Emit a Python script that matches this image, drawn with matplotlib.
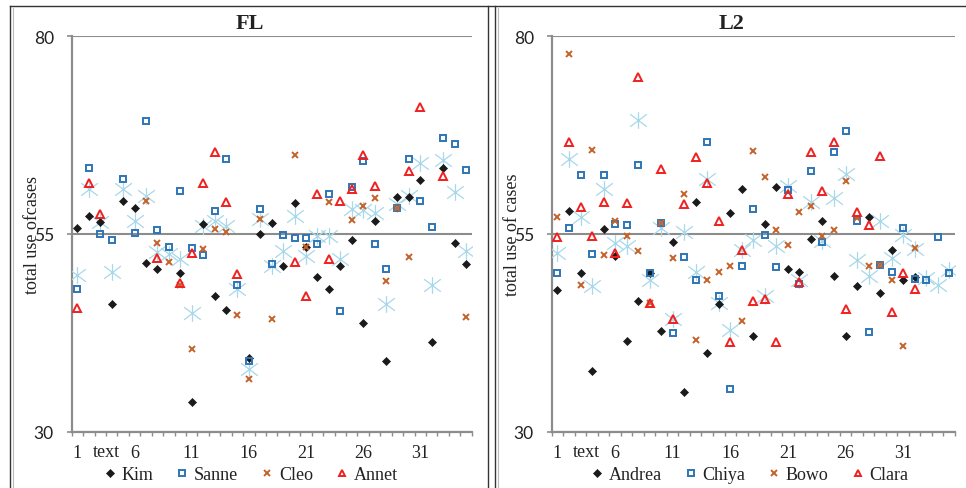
import matplotlib
matplotlib.use('Agg')
import matplotlib.pyplot as plt
from matplotlib.path import Path
from matplotlib.lines import Line2D
import matplotlib.transforms as mtransforms

# ---------------- data ----------------
cats = list(range(1, 36))
x_tick_vals = [1, 6, 11, 16, 21, 26, 31]
y_tick_vals = [30, 55, 80]

fl_kim = [55.7, 57.3, 56.5, 46.2, 59.2, 58.3, 51.3, 50.6, None, 50.1, 33.8, 56.3, 47.2, 45.4, None,
          39.3, 55.0, 56.35, 50.9, 58.9, 53.3, 49.6, 48.0, 51.0, 54.3, 43.7, 56.6, 38.9, 59.7, 59.7,
          61.8, 41.3, 63.3, 53.8, 51.2]
fl_sanne = [48.1, 63.3, 55.0, 54.2, 62.0, 55.1, 69.25, 55.5, 53.4, 60.4, 53.2, 52.3, 57.9, 64.5, 48.5,
            39.0, 58.2, 51.25, 54.9, 54.5, 54.5, 53.7, 60.0, 45.2, 61.0, 64.2, 53.7, 50.6, 58.25, 64.5,
            59.2, 55.9, 67.1, 66.4, 63.05]
fl_cleo = [None, None, None, None, None, None, 59.2, 53.9, 51.5, 48.55, 40.5, 53.1, 55.6, 55.2, 44.7,
           36.7, 56.9, 44.25, None, 64.95, 53.3, None, 59.0, None, 56.8, 58.6, 59.6, 49.0, 58.25, 52.05,
           None, None, None, None, 44.5]
fl_annet = [45.6, 61.4, 57.5, None, None, None, None, 52.0, None, 48.8, 52.6, 61.5, 65.4, 59.0, 50.0,
            None, None, None, None, 51.5, 47.1, 60.0, 51.9, 59.2, 60.65, 65.05, 61.1, None, None, 63.0,
            71.05, None, 62.3, None, None]
fl_other = [49.8, 60.7, 56.5, 50.15, 60.7, 56.7, 59.85, 52.7, 52.5, 51.8, 45.0, 56.05, 56.7, 56.05, 48.05,
            37.9, 56.9, 51.0, 52.9, 57.3, 52.25, 54.8, 54.8, 51.8, 58.2, 58.0, 57.7, 46.15, 58.8, 59.8,
            64.0, 48.55, 64.3, 60.3, 52.9]

l2_andrea = [47.9, 57.95, 50.1, 37.7, 55.6, 52.2, 41.5, 46.5, 50.1, 42.7, 54.0, 35.0, 59.0, 39.95, 46.2,
             57.6, 60.7, 42.05, 56.3, 60.9, 50.6, 50.2, 54.4, 56.7, 49.7, 42.05, 48.4, 57.1, 47.6, 52.95,
             49.15, 49.5, None, None, None]
l2_chiya = [50.1, 55.7, 62.5, 52.5, 62.5, 56.3, 56.1, 63.7, 50.1, 56.4, 42.5, 52.1, 49.2, 66.6, 47.2,
            35.4, 51.0, 58.2, 54.9, 50.85, 60.6, 48.7, 63.0, 54.0, 65.4, 68.0, 56.6, 42.6, 51.05, 50.2,
            55.7, 49.3, 49.2, 54.65, 50.1]
l2_bowo = [57.2, 77.75, 48.6, 65.6, 52.3, 56.6, 54.8, 52.8, 46.3, 56.4, 52.0, 60.0, 41.6, 49.2, 50.2,
           50.9, 43.95, 65.5, 62.2, 55.45, 53.55, 57.8, 58.6, 54.7, 55.5, 61.7, 57.05, 51.0, 51.05, 49.2,
           40.9, 53.25, None, None, None]
l2_clara = [54.6, 66.6, 58.4, 54.7, 59.1, 52.6, 58.9, 74.9, 46.3, 63.2, 44.3, 58.75, 64.8, 61.4, 56.6,
            41.3, 53.0, 46.5, 46.8, 41.3, 60.0, 48.95, 65.4, 60.4, 66.6, 45.5, 57.8, 56.2, 64.9, 45.1,
            50.1, 48.0, None, None, None]
l2_other = [52.6, 64.5, 57.1, 48.4, 60.65, 53.8, 53.5, 69.4, 49.2, 55.8, 44.3, 55.2, 50.2, 61.9, 46.3,
            42.9, 53.0, 54.3, 47.1, 53.5, 61.1, 49.2, 59.0, 54.1, 59.5, 62.55, 51.7, 49.65, 56.6, 52.0,
            54.9, 53.05, 49.45, 48.6, 50.5]

fl_names = ["Kim", "Sanne", "Cleo", "Annet"]
l2_names = ["Andrea", "Chiya", "Bowo", "Clara"]

# ---------------- style ----------------
SERIF = "Liberation Serif"
GRAY = "#8c8c8c"
C_DIA = "#1a1a1a"
C_SQ = "#2e75b6"
C_X = "#c5622a"
C_TRI = "#f02020"
C_STAR = "#a8d8ea"

star_path = Path(
    [(0, 1), (0, -1), (-1, 0.75), (1, -0.75), (-1, -0.75), (1, 0.75)],
    [Path.MOVETO, Path.LINETO, Path.MOVETO, Path.LINETO, Path.MOVETO, Path.LINETO])

W, H = 966, 489
fig = plt.figure(figsize=(W / 100, H / 100), dpi=100)


def fx(px):
    return px / W


def fy(py):
    return 1 - py / H


def to_xy(vals):
    xs = [c for c, v in zip(cats, vals) if v is not None]
    ys = [v for v in vals if v is not None]
    return xs, ys


def draw_panel(ax, series, names, other, ylabel):
    xs, ys = to_xy(other)
    ax.plot(xs, ys, linestyle="none", marker=star_path, markersize=12,
            markeredgecolor=C_STAR, markerfacecolor="none", markeredgewidth=0.9,
            zorder=3, label="_nolegend_")
    styles = [
        dict(marker="D", markersize=4.2, markerfacecolor=C_DIA, markeredgecolor=C_DIA, markeredgewidth=0.5),
        dict(marker="s", markersize=4.8, markerfacecolor="none", markeredgecolor=C_SQ, markeredgewidth=1.4),
        dict(marker="x", markersize=4.8, markeredgecolor=C_X, markeredgewidth=1.4),
        dict(marker="^", markersize=5.2, markerfacecolor="none", markeredgecolor=C_TRI, markeredgewidth=1.4),
    ]
    handles = []
    for vals, name, st in zip(series, names, styles):
        xs, ys = to_xy(vals)
        h, = ax.plot(xs, ys, linestyle="none", zorder=4, label=name, **st)
        handles.append(h)

    ax.set_xlim(0.5, 35.5)
    ax.set_ylim(30, 80)
    ax.set_yticks(y_tick_vals)
    ax.set_yticklabels([str(v) for v in y_tick_vals], fontfamily="Lato", fontsize=12.5, color="#222222")
    ax.set_xticks(x_tick_vals)
    ax.set_xticklabels([str(v) for v in x_tick_vals], fontfamily=SERIF, fontsize=13, color="#222222")
    ax.set_xticks([c + 0.5 for c in [0] + cats], minor=True)
    ax.tick_params(axis="x", which="major", length=0, pad=9)
    ax.tick_params(axis="x", which="minor", length=3.2, width=1.0, color=GRAY, direction="out")
    ax.tick_params(axis="y", which="major", length=3.8, width=1.2, color=GRAY, pad=9)
    ax.grid(axis="y", color=GRAY, linewidth=1.5, zorder=1)
    ax.set_axisbelow(True)
    for s in ["top", "right"]:
        ax.spines[s].set_visible(False)
    for s in ["left", "bottom"]:
        ax.spines[s].set_color(GRAY)
        ax.spines[s].set_linewidth(1.6)
    ax.set_ylabel(ylabel, fontfamily=SERIF, fontsize=13, color="#222222")
    ax.yaxis.set_label_coords(-0.077, 0.5)
    trans = mtransforms.blended_transform_factory(ax.transData, ax.transAxes)
    ax.text(3.5, -0.0615, "text", transform=trans, ha="center", va="baseline",
            fontfamily=SERIF, fontsize=13, color="#222222")
    return handles


ax1 = fig.add_axes([fx(71.7), fy(432.7), 400 / W, 395.4 / H])
ax2 = fig.add_axes([fx(551.7), fy(432.7), 403.3 / W, 395.4 / H])

h1 = draw_panel(ax1, [fl_kim, fl_sanne, fl_cleo, fl_annet], fl_names, fl_other, "total use ofcases")
h2 = draw_panel(ax2, [l2_andrea, l2_chiya, l2_bowo, l2_clara], l2_names, l2_other, "total use of cases")

fig.text(fx(250), fy(24), "FL", ha="center", va="center", fontfamily=SERIF,
         fontweight="bold", fontsize=16, color="#222222")
fig.text(fx(732), fy(24), "L2", ha="center", va="center", fontfamily=SERIF,
         fontweight="bold", fontsize=16, color="#222222")

leg_kw = dict(loc="center", ncol=4, frameon=False, handlelength=0.6, handletextpad=0.35,
              columnspacing=1.3, borderaxespad=0, borderpad=0, markerscale=0.9,
              prop={"family": SERIF, "size": 13})
lg1 = fig.legend(handles=h1, bbox_to_anchor=(fx(251), fy(476)), **leg_kw)
lg2 = fig.legend(handles=h2, bbox_to_anchor=(fx(750), fy(476)), **leg_kw)
for lg in (lg1, lg2):
    for t in lg.get_texts():
        t.set_color("#222222")

# panel frames
def fline(xs, ys, color, lw):
    fig.add_artist(Line2D([fx(x) for x in xs], [fy(y) for y in ys],
                          transform=fig.transFigure, color=color, linewidth=lw))

fline([9.5, 966], [6.7, 6.7], "#333333", 1.0)
fline([9.5, 9.5], [6.7, 489], "#333333", 1.0)
fline([12.7, 12.7], [8.5, 489], "#bbbbbb", 0.8)
fline([488.3, 488.3], [6.7, 489], "#333333", 1.0)
fline([495, 495], [6.7, 489], "#333333", 1.0)
fline([497.5, 497.5], [8.5, 489], "#bbbbbb", 0.8)

fig.savefig("out.png", dpi=100)
